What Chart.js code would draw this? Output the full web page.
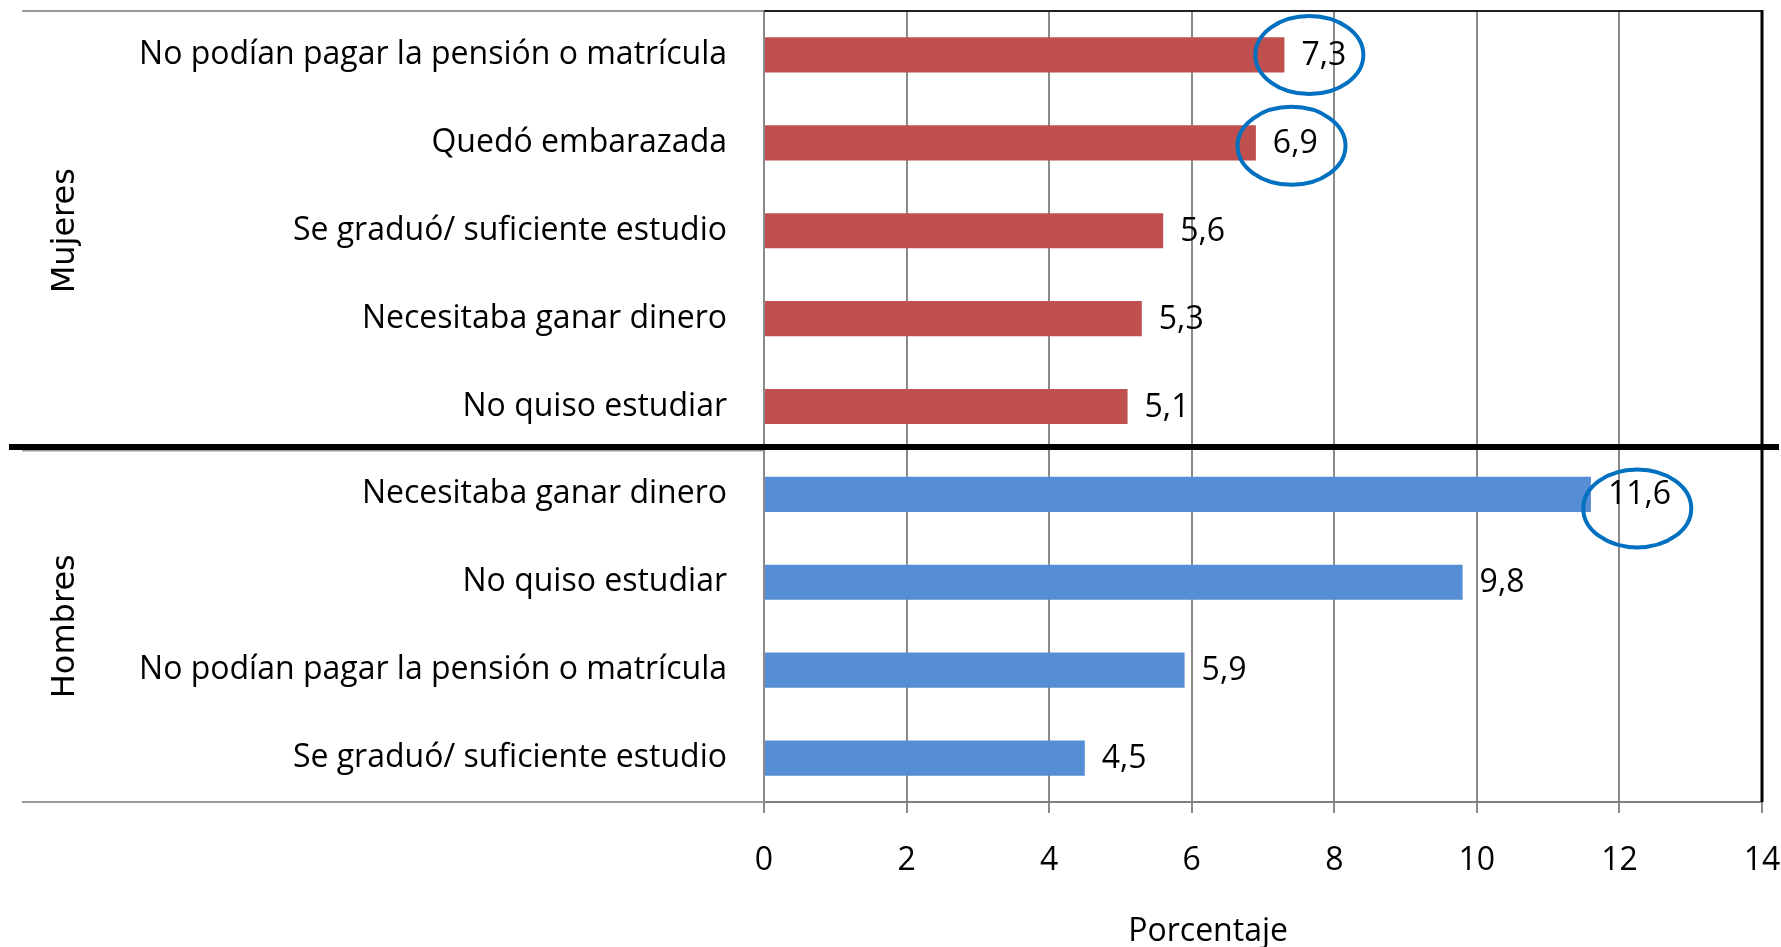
<!DOCTYPE html>
<html>
<head>
<meta charset="utf-8">
<script src="https://cdn.jsdelivr.net/npm/chart.js@4.4.1/dist/chart.umd.min.js"></script>
<style>
  html, body { margin:0; padding:0; background:#fff; }
  #wrap { width:1781px; height:947px; }
</style>
</head>
<body>
<div id="wrap"><canvas id="chart" width="1781" height="947"></canvas></div>
<script>
// ── Data ───────────────────────────────────────
const categories = [
  'No podían pagar la pensión o matrícula',
  'Quedó embarazada',
  'Se graduó/ suficiente estudio',
  'Necesitaba ganar dinero',
  'No quiso estudiar',
  'Necesitaba ganar dinero',
  'No quiso estudiar',
  'No podían pagar la pensión o matrícula',
  'Se graduó/ suficiente estudio',
];
const values      = [7.3, 6.9, 5.6, 5.3, 5.1, 11.6, 9.8, 5.9, 4.5];
const groupNames  = ['Mujeres', 'Hombres'];
const groupSizes  = [5, 4];
const groupColors = ['#C0504D', '#558ED5'];
const xTickValues = [0, 2, 4, 6, 8, 10, 12, 14];
const axisTitle   = 'Porcentaje';
// circled labels: bar index, centre on the % axis, small vertical nudge
const circledIdx = [0, 1, 5];
const circledAt  = [7.65, 7.4, 12.25];
const circledDy  = [0, 3, 14];

// ── Setup ──────────────────────────────────────
const FONT = "'Open Sans', sans-serif";
Chart.defaults.font.family = FONT;
Chart.defaults.color = '#000';

const barColors = [];
groupSizes.forEach((n, g) => { for (let i = 0; i < n; i++) barColors.push(groupColors[g]); });

const fmt = v => v.toFixed(1).replace('.', ',');
const noPad = s => { s.paddingTop = 0; s.paddingBottom = 0; s.paddingLeft = 0; s.paddingRight = 0; };

// frame, group dividers, group names, value labels, circles
const decor = {
  id: 'decor',
  afterDatasetsDraw(chart) {
    const { ctx, chartArea: a, scales: { x, y } } = chart;
    const step = y.getPixelForValue(1) - y.getPixelForValue(0);
    ctx.save();

    // plot frame (top + right)
    ctx.strokeStyle = '#222'; ctx.lineWidth = 2;
    ctx.beginPath(); ctx.moveTo(a.left, a.top); ctx.lineTo(a.right, a.top); ctx.stroke();
    ctx.strokeStyle = '#000'; ctx.lineWidth = 3;
    ctx.beginPath(); ctx.moveTo(a.right, a.top - 1); ctx.lineTo(a.right, a.bottom); ctx.stroke();

    // category group dividers
    ctx.strokeStyle = '#9a9a9a'; ctx.lineWidth = 2;
    let start = 0;
    const bounds = [a.top];
    groupSizes.forEach(n => { start += n; bounds.push(y.getPixelForValue(start - 1) + step / 2); });
    bounds.forEach(b => {
      ctx.beginPath(); ctx.moveTo(22, b); ctx.lineTo(a.left, b); ctx.stroke();
    });

    // thick black separator between groups
    ctx.strokeStyle = '#000'; ctx.lineWidth = 6;
    const sep = bounds[1] - 3.5;
    ctx.beginPath(); ctx.moveTo(9, sep); ctx.lineTo(1779, sep); ctx.stroke();

    // group names, rotated
    ctx.fillStyle = '#000';
    ctx.font = "32px 'DejaVu Sans'";
    ctx.textAlign = 'center'; ctx.textBaseline = 'middle';
    groupNames.forEach((g, i) => {
      const cy = (bounds[i] + bounds[i + 1]) / 2;
      ctx.save(); ctx.translate(66, cy); ctx.rotate(-Math.PI / 2);
      ctx.fillText(g, 0, 0); ctx.restore();
    });

    // value labels
    ctx.font = '32px ' + FONT;
    ctx.textAlign = 'left';
    chart.getDatasetMeta(0).data.forEach((bar, i) => {
      ctx.fillText(fmt(values[i]), bar.x + 17, bar.y + 1);
    });

    // circles
    ctx.strokeStyle = '#0070C0'; ctx.lineWidth = 4;
    circledIdx.forEach((idx, k) => {
      const cx = x.getPixelForValue(circledAt[k]);
      const cy = y.getPixelForValue(idx) + circledDy[k];
      ctx.beginPath(); ctx.ellipse(cx, cy, 54, 39, 0, 0, Math.PI * 2); ctx.stroke();
    });

    // axis title
    ctx.textAlign = 'center';
    ctx.fillText(axisTitle, a.left + (a.right - a.left) * 0.445, 932);
    ctx.restore();
  }
};

new Chart(document.getElementById('chart'), {
  type: 'bar',
  data: {
    labels: categories,
    datasets: [{
      data: values,
      backgroundColor: barColors,
      borderWidth: 0,
      categoryPercentage: 1,
      barPercentage: 0.4,
    }]
  },
  options: {
    indexAxis: 'y',
    responsive: false,
    animation: false,
    devicePixelRatio: 1,
    layout: { padding: { top: 11, right: 19, left: 0, bottom: 0 } },
    plugins: { legend: { display: false }, tooltip: { enabled: false } },
    scales: {
      x: {
        min: 0, max: 14,
        afterBuildTicks: s => { s.ticks = xTickValues.map(v => ({ value: v })); },
        afterFit: s => { s.height = 145; noPad(s); },
        grid: { color: '#8a8a8a', lineWidth: 2, tickLength: 11 },
        border: { color: '#808080', width: 2 },
        ticks: { font: { size: 32 }, color: '#000', padding: 29 },
      },
      y: {
        afterFit: s => { s.width = 764; noPad(s); },
        grid: { display: false, drawTicks: false },
        border: { display: false },
        ticks: { font: { size: 32 }, color: '#000', padding: 37, autoSkip: false },
      }
    }
  },
  plugins: [decor]
});
</script>
</body>
</html>
